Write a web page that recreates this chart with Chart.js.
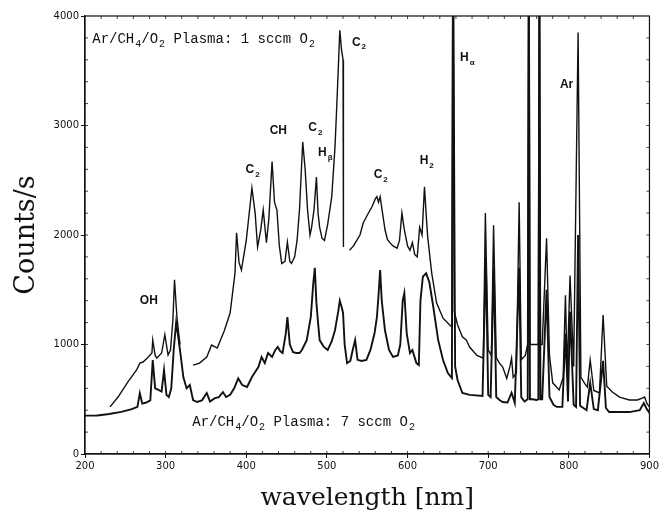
<!DOCTYPE html>
<html>
<head>
<meta charset="utf-8">
<script src="https://cdn.jsdelivr.net/npm/chart.js@4.4.1/dist/chart.umd.min.js"></script>
<style>
  html, body { margin: 0; padding: 0; background: #fff; }
  #wrap { width: 661px; height: 523px; }
</style>
</head>
<body>
<div id="wrap"><canvas id="spectrum" width="661" height="523"></canvas></div>
<script>
// --- DATA ---

// 1 sccm O2 trace (upper); null marks a gap in the recorded trace
const wl1 = [231, 241, 253, 264, 268, 272, 277, 283, 284, 287, 289, 295, 299, 303, 306, 309, 311, 314, 317, 318,
  328, 334, 342, 351, 357, 364, 373, 380, 386, 388, 391, 394, 400, 407, 411, 414, 418, 421, 425, 428,
  432, 435, 438, 441, 444, 448, 451, 454, 456, 460, 463, 466, 470, 473, 476, 479, 481, 484, 487, 489,
  491, 494, 497, 501, 506, 510, 512, 514, 516, 518, 520, 520.5, 524,
  528, 533, 537, 541, 545, 550, 556, 560, 562, 564, 566, 569, 572, 575, 578, 582, 587, 590, 593, 596,
  600, 603, 606, 609, 612, 615, 618, 621, 623, 625, 630, 636, 644, 652, 655, 656.3, 658, 662, 668, 673,
  677, 686, 694, 696.5, 700, 704, 706.7, 710, 714, 718, 723, 727, 729, 731, 735, 738.4, 741, 746, 749, 750.4,
  751.8, 755, 760, 762.2, 763.5, 764.8, 767, 772.4, 776, 780, 788, 793, 795.8, 798, 801.5, 806, 811.5, 815, 820, 823, 826.5,
  831, 838, 842.5, 847, 854, 863, 875, 885, 891, 894, 897, 900];
const counts1 = [430, 520, 657, 767, 830, 840, 875, 922, 1040, 900, 875, 922, 1090, 904, 950, 1220, 1590, 1250, 1050, 1000,
  null, 812, 830, 886, 995, 967, 1130, 1290, 1650, 2020, 1750, 1680, 1950, 2430, 2200, 1890, 2050, 2230, 1930, 2150,
  2670, 2300, 2230, 1900, 1740, 1760, 1935, 1760, 1740, 1800, 1950, 2230, 2850, 2600, 2230, 2000, 2070, 2230, 2530, 2200,
  2070, 1970, 1950, 2100, 2350, 2800, 3140, 3500, 3870, 3700, 3600, 1890, null,
  1860, 1900, 1950, 2000, 2110, 2180, 2260, 2330, 2350, 2300, 2350, 2200, 2050, 1960, 1930, 1900, 1880, 1950, 2200, 2050,
  1900, 1860, 1930, 1820, 1800, 2070, 2000, 2440, 2200, 1980, 1650, 1380, 1240, 1180, 1160, 5200, 1300, 1180, 1070, 1040,
  977, 900, 875, 2200, 950, 900, 2090, 880, 830, 794, 690, 800, 875, 700, 740, 2300, 860, 900, 1000, 5200,
  1000, 1000, 1000, 1000, 5200, 1000, 1000, 1970, 900, 650, 585, 700, 1450, 750, 1630, 800, 3850, 700, 640, 612, 858,
  580, 557, 1270, 620, 566, 520, 493, 493, 510, 520, 460, 430];

// 7 sccm O2 trace (lower)
const wl2 = [200, 215, 230, 245, 258, 265, 268, 271, 276, 281, 284, 287, 290, 295, 298, 301, 304, 307, 310, 313,
  316, 319, 322, 326, 330, 334, 339, 345, 351, 355, 361, 366, 371, 375, 380, 385, 390, 395, 401, 407,
  412, 415, 419, 423, 427, 432, 436, 439, 442, 445, 449, 451, 454, 458, 462, 466, 469, 475, 480, 483,
  485, 487, 489, 491, 496, 501, 506, 510, 514, 516, 518, 520, 522, 525, 529, 532, 535, 538, 543, 549,
  554, 559, 562, 564, 566, 568, 572, 577, 582, 588, 591, 594, 596, 599, 603, 606, 611, 614, 616, 619,
  623, 627, 632, 638, 644, 650, 655, 656.5, 659, 662, 668, 677, 693, 697, 700, 703, 707, 710, 714, 718,
  724, 729, 733, 738.4, 741, 745, 749, 750.4, 751.8, 755, 760, 762.2, 763.5, 764.8, 767, 772.4, 776, 781, 785, 792,
  795.8, 799, 801.5, 806, 809, 811.5, 814, 818, 822, 826.5, 831, 836, 842.5, 846, 850, 860, 875, 888, 893, 896, 900];
const counts2 = [350, 352, 365, 385, 410, 430, 555, 460, 470, 490, 858, 600, 590, 570, 767, 540, 520, 600, 950, 1200,
  1050, 880, 700, 600, 630, 493, 475, 490, 557, 480, 510, 520, 566, 520, 540, 600, 690, 630, 612, 703,
  760, 794, 886, 830, 922, 886, 950, 977, 940, 922, 1100, 1250, 1000, 930, 922, 922, 950, 1040, 1250, 1550,
  1700, 1380, 1200, 1040, 980, 950, 1030, 1130, 1300, 1400, 1350, 1290, 1000, 830, 850, 950, 1040, 860, 850, 860,
  950, 1100, 1250, 1450, 1680, 1400, 1130, 950, 886, 900, 1000, 1400, 1470, 1100, 922, 950, 830, 812, 1400, 1620,
  1650, 1570, 1340, 1040, 858, 740, 694, 4600, 800, 676, 557, 540, 530, 1800, 540, 520, 1700, 520, 493, 475,
  470, 560, 466, 1700, 520, 480, 500, 4600, 500, 500, 493, 500, 4300, 500, 500, 1500, 520, 450, 430, 430,
  1100, 480, 1300, 450, 430, 2000, 440, 420, 400, 650, 410, 400, 850, 420, 383, 383, 383, 400, 466, 420, 374];

const xTicks = [200, 300, 400, 500, 600, 700, 800, 900];
const yTicks = [0, 1000, 2000, 3000, 4000];

// text labels on the plot: [main, subscript, wavelength, counts, kind, ...more main/sub pairs]
const labels = [
  ['Ar/CH', '4', 209, 3790, 'mono', '/O', '2', ' Plasma: 1 sccm O', '2'],
  ['Ar/CH', '4', 333, 290, 'mono', '/O', '2', ' Plasma: 7 sccm O', '2'],
  ['OH', '', 268, 1400, 'sans'],
  ['C', '2', 399, 2600, 'sans'],
  ['CH', '', 429, 2950, 'sans'],
  ['C', '2', 477, 2980, 'sans'],
  ['H', 'β', 489, 2750, 'sans'],
  ['C', '2', 531, 3760, 'sans'],
  ['C', '2', 558, 2550, 'sans'],
  ['H', '2', 615, 2680, 'sans'],
  ['H', 'α', 665, 3620, 'sans'],
  ['Ar', '', 789, 3370, 'sans']
];

function toPoints(xs, ys) {
  return xs.map((x, i) => ({ x: x, y: ys[i] }));
}

// --- PLUGIN: frame box, minor ticks and text labels ---
const decorations = {
  id: 'decorations',
  afterDraw(chart) {
    const { ctx, chartArea: a, scales: { x, y } } = chart;
    ctx.save();
    ctx.strokeStyle = '#111';
    ctx.lineWidth = 1.2;
    ctx.strokeRect(a.left, a.top, a.right - a.left, a.bottom - a.top);

    // small inward ticks
    ctx.lineWidth = 0.8;
    ctx.beginPath();
    for (let v = 220; v < 900; v += 20) {
      const px = x.getPixelForValue(v);
      ctx.moveTo(px, a.bottom); ctx.lineTo(px, a.bottom - 3);
      ctx.moveTo(px, a.top); ctx.lineTo(px, a.top + 3);
    }
    for (let v = 200; v < 4000; v += 200) {
      const py = y.getPixelForValue(v);
      ctx.moveTo(a.left, py); ctx.lineTo(a.left + 3, py);
      ctx.moveTo(a.right, py); ctx.lineTo(a.right - 3, py);
    }
    ctx.stroke();

    ctx.fillStyle = '#111';
    ctx.textBaseline = 'middle';
    labels.forEach(l => {
      const mono = l[4] === 'mono';
      const big = mono ? '14px "Liberation Mono"' : 'bold 12px "Liberation Sans"';
      const small = mono ? '10px "Liberation Mono"' : 'bold 8px "Liberation Sans"';
      let px = x.getPixelForValue(l[2]);
      const py = y.getPixelForValue(l[3]);
      const parts = [[l[0], l[1]]];
      if (l.length > 5) { parts.push([l[5], l[6]]); parts.push([l[7], l[8]]); }
      parts.forEach(([main, sub]) => {
        ctx.font = big;
        ctx.fillText(main, px, py);
        px += ctx.measureText(main).width;
        if (sub) {
          ctx.font = small;
          ctx.fillText(sub, px + 1, py + 5);
          px += ctx.measureText(sub).width + 1;
        }
      });
    });
    ctx.restore();
  }
};

const ctx = document.getElementById('spectrum').getContext('2d');
new Chart(ctx, {
  type: 'line',
  data: {
    datasets: [{
      label: '1 sccm O2',
      data: toPoints(wl1, counts1),
      borderColor: '#111',
      borderWidth: 1.4,
      pointRadius: 0,
      spanGaps: false,
      tension: 0
    }, {
      label: '7 sccm O2',
      data: toPoints(wl2, counts2),
      borderColor: '#111',
      borderWidth: 1.9,
      pointRadius: 0,
      tension: 0
    }]
  },
  options: {
    responsive: false,
    animation: false,
    layout: { padding: { left: 11, right: 11, top: 16, bottom: 10 } },
    plugins: { legend: { display: false }, tooltip: { enabled: false } },
    scales: {
      x: {
        type: 'linear',
        min: 200, max: 900,
        afterBuildTicks: (s) => { s.ticks = xTicks.map(v => ({ value: v })); },
        afterFit: (s) => { s.height = 59; },
        grid: { drawOnChartArea: false, tickLength: 4, color: '#111' },
        border: { color: '#111', width: 1.2 },
        ticks: { color: '#111', font: { family: 'DejaVu Sans', size: 10 }, padding: 2, maxRotation: 0,
                 callback: (v) => String(v) },
        title: { display: true, text: 'wavelength [nm]', color: '#111',
                 font: { family: 'DejaVu Serif', size: 25 }, padding: { top: 0, bottom: 0 } }
      },
      y: {
        min: 0, max: 4000,
        afterBuildTicks: (s) => { s.ticks = yTicks.map(v => ({ value: v })); },
        afterFit: (s) => { s.width = 74; },
        grid: { drawOnChartArea: false, tickLength: 4, color: '#111' },
        border: { color: '#111', width: 1.2 },
        ticks: { color: '#111', font: { family: 'DejaVu Sans', size: 10 }, padding: 2,
                 callback: (v) => String(v) },
        title: { display: true, text: 'Counts/s', color: '#111',
                 font: { family: 'DejaVu Serif', size: 27 }, padding: { top: 0, bottom: 0 } }
      }
    }
  },
  plugins: [decorations]
});
</script>
</body>
</html>
